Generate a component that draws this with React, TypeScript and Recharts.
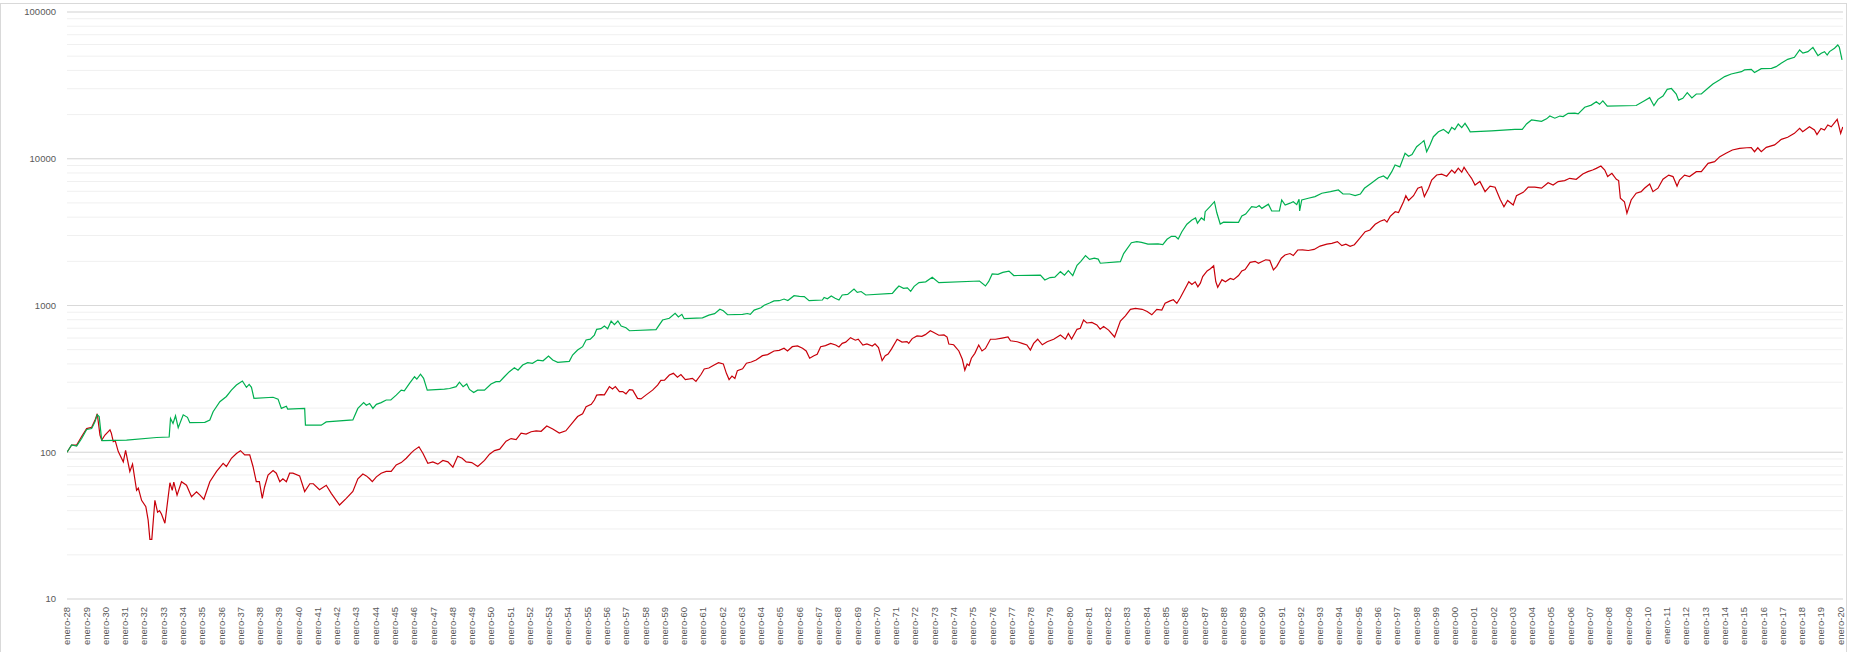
import React from "react";
import { LineChart, Line, XAxis, YAxis, CartesianGrid, ReferenceLine } from "recharts";

// [year, value], log scale
const greenSeries: [number, number][] = [
  [1928.0, 100], [1928.24, 112], [1928.5, 110], [1928.76, 124], [1929.02, 143], [1929.28, 145], [1929.45, 161],
  [1929.57, 180], [1929.67, 175], [1929.8, 121], [1929.84, 120], [1931.09, 121], [1932.65, 126], [1933.3, 127],
  [1933.37, 170], [1933.5, 157], [1933.63, 177], [1933.77, 147], [1934.03, 180], [1934.25, 173], [1934.37, 159],
  [1935.15, 160], [1935.41, 166], [1935.58, 189], [1935.93, 221], [1936.27, 240], [1936.53, 265], [1936.79, 287],
  [1937.1, 306], [1937.31, 277], [1937.45, 290], [1937.57, 277], [1937.7, 233], [1938.69, 237], [1938.95, 230],
  [1939.12, 199], [1939.38, 206], [1939.45, 197], [1940.33, 199], [1940.37, 153], [1941.19, 153], [1941.45, 161],
  [1942.83, 166], [1943.09, 199], [1943.39, 218], [1943.53, 209], [1943.7, 215], [1943.87, 199], [1944.05, 212],
  [1944.3, 218], [1944.56, 227], [1944.8, 227], [1945.08, 245], [1945.34, 265], [1945.5, 262], [1945.77, 295],
  [1946.03, 327], [1946.15, 315], [1946.34, 340], [1946.5, 319], [1946.69, 265], [1947.58, 269], [1947.85, 272],
  [1948.19, 280], [1948.36, 300], [1948.55, 280], [1948.74, 292], [1948.88, 268], [1949.1, 255], [1949.3, 265],
  [1949.66, 265], [1950.0, 292], [1950.26, 303], [1950.45, 303], [1950.69, 327], [1950.95, 354], [1951.21, 377],
  [1951.4, 362], [1951.64, 393], [1951.9, 408], [1952.15, 404], [1952.42, 425], [1952.7, 420], [1952.98, 453],
  [1953.2, 425], [1953.46, 410], [1954.06, 416], [1954.23, 460], [1954.49, 497], [1954.75, 524], [1954.93, 582],
  [1955.15, 590], [1955.36, 629], [1955.48, 688], [1955.7, 695], [1955.88, 725], [1956.05, 695], [1956.23, 784],
  [1956.4, 740], [1956.58, 784], [1956.75, 725], [1957.0, 706], [1957.18, 673], [1958.56, 685], [1958.9, 796],
  [1959.25, 818], [1959.55, 885], [1959.72, 835], [1959.9, 870], [1960.02, 813], [1960.97, 823], [1961.3, 860],
  [1961.6, 880], [1961.87, 942], [1962.05, 920], [1962.27, 865], [1963.05, 870], [1963.3, 882], [1963.45, 870],
  [1963.65, 930], [1964.0, 965], [1964.17, 1003], [1964.45, 1040], [1964.68, 1074], [1964.95, 1078], [1965.2, 1107],
  [1965.4, 1080], [1965.72, 1166], [1966.0, 1155], [1966.25, 1150], [1966.5, 1079], [1967.19, 1090], [1967.28, 1135],
  [1967.45, 1110], [1967.65, 1161], [1967.85, 1120], [1968.05, 1090], [1968.22, 1179], [1968.5, 1190], [1968.83, 1294],
  [1969.0, 1230], [1969.2, 1245], [1969.44, 1179], [1970.82, 1210], [1971.0, 1290], [1971.16, 1358], [1971.4, 1310],
  [1971.6, 1320], [1971.77, 1248], [1971.95, 1350], [1972.2, 1432], [1972.55, 1450], [1972.89, 1557], [1973.23, 1432],
  [1975.34, 1469], [1975.65, 1358], [1975.82, 1460], [1976.0, 1642], [1976.3, 1630], [1976.55, 1680], [1976.87, 1715],
  [1977.12, 1600], [1978.5, 1610], [1978.73, 1492], [1979.0, 1550], [1979.25, 1560], [1979.54, 1700], [1979.75, 1610],
  [1979.95, 1730], [1980.18, 1600], [1980.4, 1880], [1980.6, 2000], [1980.84, 2187], [1981.05, 2060], [1981.3, 2100],
  [1981.5, 2070], [1981.61, 1941], [1982.65, 1990], [1982.82, 2260], [1983.22, 2679], [1983.5, 2720], [1983.75, 2690],
  [1984.08, 2620], [1984.6, 2630], [1984.85, 2600], [1985.07, 2827], [1985.3, 2960], [1985.5, 2960], [1985.65, 2840],
  [1985.84, 3183], [1986.1, 3580], [1986.36, 3827], [1986.55, 3950], [1986.65, 3640], [1986.85, 3950], [1987.0, 3820],
  [1987.05, 4357], [1987.3, 4720], [1987.53, 5097], [1987.65, 4300], [1987.83, 3591], [1988.0, 3700], [1988.78, 3690],
  [1988.95, 4070], [1989.15, 4200], [1989.46, 4710], [1989.7, 4660], [1989.85, 4800], [1989.99, 4590], [1990.33, 4900],
  [1990.5, 4406], [1990.9, 4406], [1991.02, 5236], [1991.2, 4840], [1991.45, 4980], [1991.62, 5097], [1991.8, 4870],
  [1991.92, 5300], [1991.95, 4406], [1992.06, 5236], [1992.4, 5380], [1992.75, 5525], [1993.1, 5822], [1993.55, 5970],
  [1993.96, 6127], [1994.2, 5750], [1994.55, 5750], [1994.83, 5608], [1995.1, 5750], [1995.31, 6290], [1995.7, 6870],
  [1996.04, 7430], [1996.3, 7640], [1996.5, 7300], [1996.73, 8166], [1996.9, 9060], [1997.15, 8800], [1997.42, 10900],
  [1997.6, 10400], [1997.78, 10700], [1998.02, 12080], [1998.28, 12880], [1998.4, 13300], [1998.54, 11170],
  [1998.71, 12420], [1998.89, 14130], [1999.15, 15270], [1999.41, 15860], [1999.67, 14900], [1999.84, 16360],
  [2000.0, 15800], [2000.18, 17250], [2000.36, 16300], [2000.53, 17420], [2000.7, 16100], [2000.8, 15270],
  [2001.91, 15510], [2003.12, 15860], [2003.5, 15860], [2003.72, 17250], [2003.98, 18370], [2004.24, 18200],
  [2004.5, 18000], [2004.76, 18700], [2004.93, 19540], [2005.19, 18900], [2005.45, 19540], [2005.62, 19400],
  [2005.88, 20400], [2006.23, 20470], [2006.4, 20200], [2006.74, 22430], [2007.08, 23200], [2007.34, 24480],
  [2007.51, 23500], [2007.68, 24800], [2007.91, 22800], [2009.41, 23050], [2009.84, 24880], [2010.11, 26070],
  [2010.33, 23000], [2010.54, 25400], [2010.8, 26780], [2011.02, 29700], [2011.24, 30100], [2011.49, 27620],
  [2011.61, 25100], [2011.83, 25800], [2012.06, 28200], [2012.3, 26000], [2012.53, 27620], [2012.79, 27620],
  [2013.13, 30200], [2013.39, 32290], [2013.73, 34400], [2014.0, 36300], [2014.34, 37800], [2014.87, 39200],
  [2015.03, 40300], [2015.38, 40700], [2015.55, 38700], [2015.9, 41100], [2016.43, 41300], [2016.67, 42400],
  [2016.93, 44700], [2017.27, 47600], [2017.62, 49100], [2017.89, 55100], [2018.06, 52400], [2018.32, 53700],
  [2018.58, 57400], [2018.84, 50400], [2019.01, 52400], [2019.18, 53700], [2019.32, 50900], [2019.44, 53700],
  [2019.7, 56600], [2019.87, 59600], [2019.95, 57500], [2020.09, 47100],
];

const redSeries: [number, number][] = [
  [1928.0, 100], [1928.24, 112], [1928.5, 112], [1928.76, 128], [1929.02, 145], [1929.28, 148], [1929.45, 165],
  [1929.57, 183], [1929.71, 131], [1929.8, 121], [1929.97, 131], [1930.23, 142], [1930.3, 135], [1930.4, 118],
  [1930.5, 120], [1930.66, 101], [1930.92, 86], [1931.04, 103], [1931.26, 74], [1931.4, 83], [1931.61, 55],
  [1931.7, 57], [1931.87, 47], [1932.09, 42.6], [1932.21, 34.5], [1932.3, 25.5], [1932.4, 25.5], [1932.56, 47],
  [1932.7, 39], [1932.8, 40], [1932.9, 38], [1933.08, 32.8], [1933.34, 62], [1933.46, 55], [1933.54, 62.5],
  [1933.71, 51], [1933.94, 63], [1934.2, 59.6], [1934.46, 49.8], [1934.72, 53.8], [1934.9, 51], [1935.1, 47.8],
  [1935.41, 63], [1935.76, 74], [1936.1, 84], [1936.27, 80], [1936.53, 91], [1936.79, 98], [1937.0, 102.5],
  [1937.22, 96], [1937.48, 96], [1937.65, 80], [1937.82, 63], [1937.98, 63], [1938.13, 48.5], [1938.25, 58],
  [1938.43, 70], [1938.69, 75], [1938.86, 72], [1939.04, 63], [1939.2, 66], [1939.38, 63], [1939.55, 72],
  [1939.72, 72], [1940.07, 69], [1940.33, 54], [1940.6, 61], [1940.78, 61], [1941.1, 55.5], [1941.45, 59.6],
  [1941.71, 52.5], [1942.14, 43.7], [1942.49, 48.5], [1942.83, 54], [1943.09, 66], [1943.35, 71], [1943.53, 69],
  [1943.7, 66], [1943.84, 63], [1944.05, 68], [1944.3, 72], [1944.56, 74], [1944.82, 74], [1945.08, 82],
  [1945.34, 85], [1945.6, 91], [1945.86, 99], [1946.0, 103], [1946.26, 109], [1946.47, 98], [1946.72, 84],
  [1946.98, 86], [1947.24, 83], [1947.5, 88], [1947.76, 86], [1948.02, 79], [1948.27, 94], [1948.5, 91],
  [1948.71, 86], [1949.0, 85], [1949.31, 80], [1949.66, 88], [1949.92, 97], [1950.18, 102.6], [1950.45, 105],
  [1950.78, 119], [1951.04, 124], [1951.3, 122], [1951.56, 135], [1951.82, 133], [1952.08, 138], [1952.34, 140],
  [1952.6, 139], [1952.89, 151], [1953.2, 144], [1953.54, 135], [1953.88, 140], [1954.23, 159], [1954.49, 175],
  [1954.75, 183], [1954.93, 204], [1955.2, 212], [1955.36, 227], [1955.48, 245], [1955.7, 247], [1955.88, 246],
  [1956.14, 280], [1956.3, 270], [1956.45, 280], [1956.66, 259], [1956.83, 259], [1957.0, 250], [1957.18, 267],
  [1957.35, 265], [1957.6, 233], [1957.78, 231], [1958.03, 245], [1958.38, 265], [1958.64, 287], [1958.81, 309],
  [1959.0, 310], [1959.25, 336], [1959.46, 345], [1959.67, 325], [1959.85, 338], [1960.08, 313], [1960.3, 316],
  [1960.45, 319], [1960.63, 304], [1960.9, 340], [1961.06, 369], [1961.3, 375], [1961.55, 392], [1961.8, 408],
  [1962.05, 400], [1962.21, 345], [1962.35, 313], [1962.5, 330], [1962.65, 318], [1962.78, 360], [1963.05, 370],
  [1963.25, 404], [1963.5, 412], [1963.75, 425], [1964.08, 455], [1964.35, 463], [1964.68, 490], [1964.95, 495],
  [1965.2, 511], [1965.38, 490], [1965.63, 524], [1965.9, 530], [1966.16, 511], [1966.35, 490], [1966.53, 437],
  [1966.75, 455], [1966.92, 465], [1967.1, 524], [1967.35, 533], [1967.62, 552], [1967.88, 538], [1968.05, 522],
  [1968.22, 552], [1968.4, 563], [1968.65, 604], [1968.9, 580], [1969.05, 590], [1969.29, 538], [1969.5, 548],
  [1969.78, 530], [1969.92, 548], [1970.1, 517], [1970.29, 421], [1970.45, 455], [1970.6, 467], [1970.78, 506],
  [1971.07, 589], [1971.32, 563], [1971.58, 567], [1971.67, 552], [1971.85, 595], [1972.1, 620], [1972.35, 616],
  [1972.53, 633], [1972.79, 673], [1972.97, 655], [1973.23, 627], [1973.5, 630], [1973.66, 610], [1973.75, 546],
  [1974.0, 540], [1974.27, 490], [1974.45, 430], [1974.58, 363], [1974.7, 399], [1974.8, 390], [1974.92, 437],
  [1975.1, 472], [1975.3, 538], [1975.47, 490], [1975.65, 510], [1975.91, 589], [1976.17, 589], [1976.51, 600],
  [1976.82, 610], [1976.95, 575], [1977.3, 566], [1977.55, 552], [1977.8, 538], [1977.98, 497], [1978.15, 552],
  [1978.36, 589], [1978.6, 540], [1978.85, 566], [1979.19, 589], [1979.54, 629], [1979.8, 590], [1979.95, 645],
  [1980.12, 590], [1980.4, 688], [1980.57, 700], [1980.74, 796], [1980.91, 760], [1981.17, 766], [1981.43, 737],
  [1981.6, 690], [1981.78, 720], [1982.04, 680], [1982.35, 610], [1982.65, 784], [1982.91, 850], [1983.17, 942],
  [1983.43, 955], [1983.78, 942], [1984.04, 910], [1984.28, 864], [1984.54, 942], [1984.8, 930], [1984.97, 1035],
  [1985.23, 1075], [1985.4, 1095], [1985.58, 1035], [1985.75, 1125], [1986.02, 1309], [1986.2, 1450],
  [1986.36, 1390], [1986.53, 1450], [1986.67, 1340], [1986.8, 1420], [1986.92, 1574], [1987.15, 1720],
  [1987.32, 1780], [1987.49, 1866], [1987.6, 1452], [1987.7, 1333], [1987.92, 1500], [1988.1, 1450],
  [1988.35, 1530], [1988.52, 1500], [1988.78, 1600], [1988.95, 1720], [1989.12, 1760], [1989.38, 1968],
  [1989.64, 2000], [1989.81, 1941], [1990.19, 2050], [1990.4, 2030], [1990.59, 1746], [1990.76, 1850],
  [1991.0, 2100], [1991.19, 2208], [1991.45, 2260], [1991.62, 2190], [1991.85, 2388], [1992.1, 2390],
  [1992.4, 2370], [1992.7, 2410], [1993.01, 2540], [1993.36, 2620], [1993.62, 2650], [1993.91, 2724],
  [1994.14, 2560], [1994.35, 2620], [1994.57, 2530], [1994.79, 2595], [1995.0, 2800], [1995.35, 3183],
  [1995.6, 3270], [1995.87, 3574], [1996.13, 3750], [1996.35, 3850], [1996.48, 3700], [1996.65, 4050],
  [1996.91, 4357], [1997.08, 4300], [1997.34, 5097], [1997.46, 5600], [1997.6, 5200], [1997.86, 5600],
  [1998.08, 6290], [1998.28, 6450], [1998.42, 5525], [1998.64, 6290], [1998.8, 7160], [1999.06, 7750],
  [1999.32, 7850], [1999.58, 7600], [1999.84, 8380], [2000.0, 8000], [2000.18, 8630], [2000.36, 8100],
  [2000.48, 8745], [2000.7, 7900], [2000.87, 7360], [2001.05, 6626], [2001.3, 7000], [2001.57, 5970],
  [2001.83, 6500], [2002.09, 6400], [2002.35, 5300], [2002.55, 4710], [2002.74, 5200], [2003.03, 4840],
  [2003.2, 5600], [2003.55, 5900], [2003.81, 6400], [2004.15, 6400], [2004.5, 6310], [2004.84, 6870],
  [2005.1, 6626], [2005.36, 6990], [2005.7, 7100], [2005.96, 7360], [2006.3, 7250], [2006.64, 7870],
  [2006.9, 8166], [2007.15, 8380], [2007.34, 8600], [2007.58, 8930], [2007.78, 8380], [2007.93, 7560],
  [2008.15, 7960], [2008.38, 7250], [2008.5, 7100], [2008.59, 5380], [2008.8, 5097], [2008.93, 4250],
  [2009.15, 5236], [2009.41, 5822], [2009.67, 5970], [2009.84, 6290], [2010.11, 6730], [2010.28, 5970],
  [2010.54, 6300], [2010.8, 7250], [2011.1, 7740], [2011.32, 7560], [2011.53, 6510], [2011.66, 7160],
  [2011.92, 7740], [2012.18, 7560], [2012.53, 8166], [2012.79, 8166], [2013.14, 9310], [2013.48, 9550],
  [2013.75, 10330], [2014.07, 10900], [2014.4, 11480], [2014.78, 11780], [2015.15, 11880], [2015.38, 11900],
  [2015.55, 11170], [2015.72, 11880], [2015.9, 11170], [2016.16, 11950], [2016.59, 12420], [2016.94, 13560],
  [2017.27, 14000], [2017.62, 14900], [2017.89, 16100], [2018.05, 15270], [2018.4, 16500], [2018.66, 15710],
  [2018.79, 14600], [2019.0, 16100], [2019.18, 15700], [2019.35, 17000], [2019.53, 16500], [2019.84, 18570],
  [2020.02, 14900], [2020.13, 16450],
];

const yearTicks: number[] = Array.from({ length: 93 }, (_, i) => 1928 + i);
const majorTicks = [10, 100, 1000, 10000, 100000];
const minorTicks = [20, 30, 40, 50, 60, 70, 80, 90, 200, 300, 400, 500, 600, 700, 800, 900, 2000, 3000, 4000, 5000,
  6000, 7000, 8000, 9000, 20000, 30000, 40000, 50000, 60000, 70000, 80000, 90000];
const allTicks = [...majorTicks, ...minorTicks].sort((a, b) => a - b);

const greenData = greenSeries.map(([t, v]) => ({ t, v }));
const redData = redSeries.map(([t, v]) => ({ t, v }));

const FONT = "'Liberation Sans', Arial, sans-serif";
const LABEL = "#595959";

function yearLabel(y: number) {
  return `enero-${String(y % 100).padStart(2, "0")}`;
}

function XTick(props: any) {
  const { x, y, payload } = props;
  return (
    <text
      x={x}
      y={y}
      dy="0.35em"
      transform={`rotate(-90, ${x}, ${y})`}
      textAnchor="end"
      fill={LABEL}
      fontSize={9.5}
      fontFamily={FONT}
    >
      {yearLabel(payload.value)}
    </text>
  );
}

export default function App() {
  return (
    <div style={{ position: "absolute", left: 0, top: 0, width: 1852, height: 652, background: "#fff", overflow: "hidden" }}>
      <div
        style={{
          position: "absolute",
          left: 0,
          top: 3,
          width: 1847,
          height: 700,
          border: "1px solid #d9d9d9",
          boxSizing: "border-box",
        }}
      />
      <LineChart width={1852} height={652} margin={{ top: 12, right: 9, bottom: 0, left: 0 }}>
        <CartesianGrid vertical={false} stroke="#f0f0f0" />
        <XAxis
          dataKey="t"
          type="number"
          domain={[1928, 2020.14]}
          allowDataOverflow
          ticks={yearTicks}
          interval={0}
          height={53}
          tickLine={false}
          tickSize={0}
          tickMargin={8}
          axisLine={{ stroke: "#d9d9d9" }}
          tick={<XTick />}
        />
        <YAxis
          type="number"
          scale="log"
          domain={[10, 100000]}
          allowDataOverflow
          ticks={allTicks}
          interval={0}
          width={67}
          axisLine={false}
          tickLine={false}
          tickSize={0}
          tickMargin={11}
          tickFormatter={(v: number) => (majorTicks.includes(v) ? String(v) : "")}
          tick={{ fill: LABEL, fontSize: 9.5, fontFamily: FONT }}
        />
        {majorTicks.slice(1).map((v) => (
          <ReferenceLine key={v} y={v} stroke="#d9d9d9" />
        ))}
        <Line
          data={redData}
          dataKey="v"
          type="linear"
          stroke="#c8000a"
          strokeWidth={1.2}
          dot={false}
          isAnimationActive={false}
        />
        <Line
          data={greenData}
          dataKey="v"
          type="linear"
          stroke="#00b050"
          strokeWidth={1.2}
          dot={false}
          isAnimationActive={false}
        />
      </LineChart>
    </div>
  );
}
